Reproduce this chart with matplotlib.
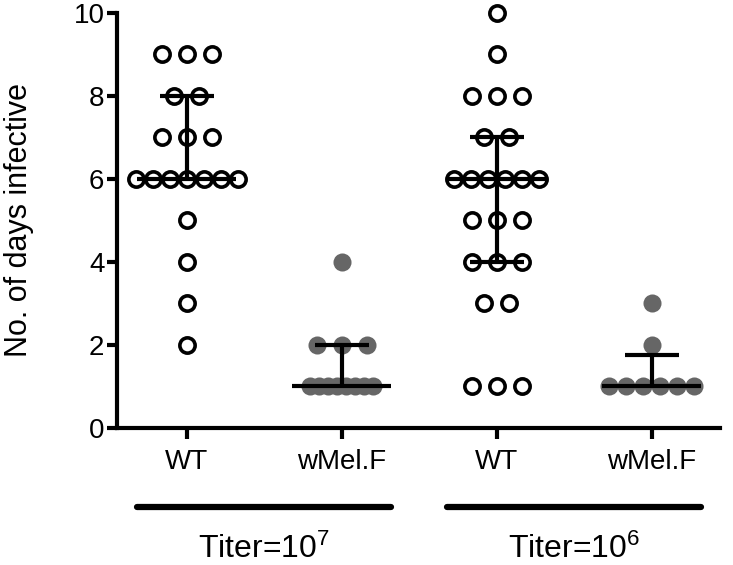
import numpy as np
import matplotlib
matplotlib.use("Agg")
import matplotlib.pyplot as plt

plt.rcParams['font.family'] = ['Liberation Sans', 'DejaVu Sans']
plt.rcParams['mathtext.fontset'] = 'custom'
plt.rcParams['mathtext.rm'] = 'Liberation Sans'
plt.rcParams['mathtext.default'] = 'rm'

# ---- data ----
groups = ["WT", "wMel.F", "WT", "wMel.F"]
titers = ["Titer=10$^7$", "Titer=10$^6$"]
wt_1e7 = [9, 9, 9, 8, 8, 7, 7, 7, 6, 6, 6, 6, 6, 6, 6, 5, 4, 3, 2]
wmel_1e7 = [4, 2, 2, 2, 1, 1, 1, 1, 1, 1, 1, 1]
wt_1e6 = [10, 9, 8, 8, 8, 7, 7, 6, 6, 6, 6, 6, 6, 5, 5, 5, 4, 4, 4, 3, 3, 1, 1, 1]
wmel_1e6 = [3, 2, 1, 1, 1, 1, 1, 1]
series = [wt_1e7, wmel_1e7, wt_1e6, wmel_1e6]

# ---- style ----
open_style = dict(marker='o', ms=11, mfc='none', mec='black', mew=2.6, ls='none')
fill_style = dict(marker='o', ms=13, mfc='#666666', mec='none', ls='none')
styles = [open_style, fill_style, open_style, fill_style]
dense_spacing = [0.11, 0.058, 0.11, 0.11]
sparse_spacing = 0.16

fig = plt.figure(figsize=(7.33, 5.65), dpi=100)
ax = fig.add_axes([0.1596, 0.2425, 0.8227, 0.7345])

for i, vals in enumerate(series):
    vals = np.array(vals)
    xs, ys = [], []
    for v in np.unique(vals):
        n = int((vals == v).sum())
        s = sparse_spacing if n <= 3 else dense_spacing[i]
        offs = (np.arange(n) - (n - 1) / 2) * s
        xs.extend(i + offs)
        ys.extend([v] * n)
    ax.plot(xs, ys, clip_on=False, zorder=3, **styles[i])
    med = np.median(vals)
    q1, q3 = np.percentile(vals, [25, 75], method='weibull')
    ax.plot([i - 0.32, i + 0.32], [med, med], color='black', lw=3, zorder=4,
            solid_capstyle='butt', clip_on=False)
    ax.plot([i, i], [q1, q3], color='black', lw=3, zorder=4, solid_capstyle='butt')
    for q in (q1, q3):
        if q != med:
            ax.plot([i - 0.175, i + 0.175], [q, q], color='black', lw=3, zorder=4,
                    solid_capstyle='butt')

ax.set_xlim(-0.45, 3.44)
ax.set_ylim(0, 10)
ax.set_yticks([0, 2, 4, 6, 8, 10])
ax.set_xticks(range(4))
ax.set_xticklabels(groups, fontsize=20)
ax.tick_params(axis='y', labelsize=20, width=3, length=7, pad=2)
ax.tick_params(axis='x', width=3, length=8, pad=7)
for sp in ['top', 'right']:
    ax.spines[sp].set_visible(False)
for sp in ['left', 'bottom']:
    ax.spines[sp].set_linewidth(3)
ax.set_ylabel("No. of days infective", fontsize=22, va='center')
ax.yaxis.set_label_coords(-0.162, 0.5)

trans = ax.get_xaxis_transform()
for k, t in enumerate(titers):
    c = 0.5 + 2 * k
    ax.plot([c - 0.82, c + 0.82], [-0.19, -0.19], color='black', lw=4.5,
            solid_capstyle='round', transform=trans, clip_on=False)
    ax.text(c, -0.292, t, fontsize=23, ha='center', va='center', transform=trans)

fig.savefig("out.png", dpi=100)
